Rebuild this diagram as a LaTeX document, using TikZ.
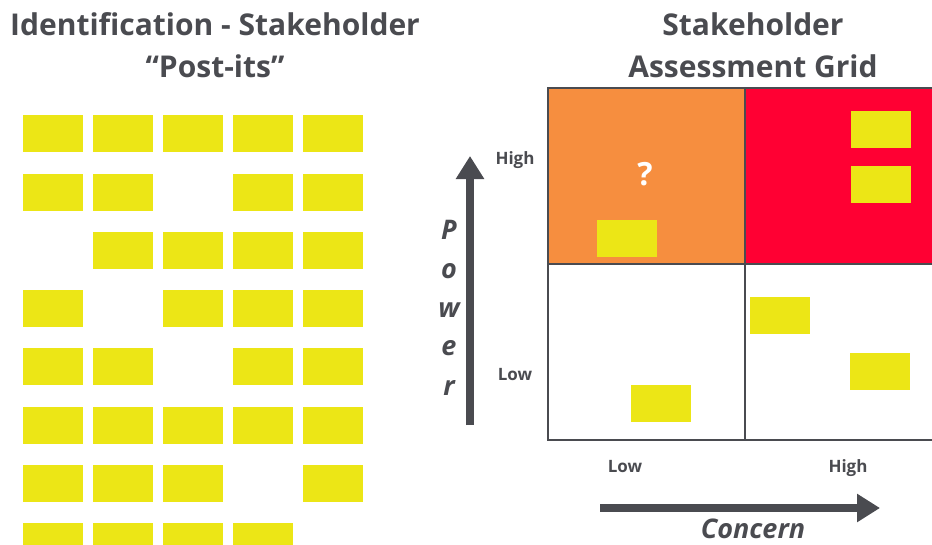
\documentclass[tikz,border=0pt]{standalone}
\usepackage{fontspec}
\setmainfont{Open Sans}
\usetikzlibrary{arrows.meta}
\definecolor{pyellow}{HTML}{ECE616}
\definecolor{porange}{HTML}{F68E3F}
\definecolor{pred}{HTML}{FF0033}
\definecolor{tgray}{HTML}{4A4B50}
\begin{document}
\begin{tikzpicture}[x=1pt,y=-1pt,
  postit/.style={fill=pyellow, minimum width=60pt, minimum height=37pt, inner sep=0pt, anchor=north west},
  title/.style={text=tgray, font=\fontsize{30}{36}\selectfont\bfseries, anchor=base, inner sep=0pt},
  axlabel/.style={text=tgray, font=\fontsize{17}{20}\selectfont\bfseries, anchor=base, inner sep=0pt},
  axname/.style={text=tgray, font=\fontsize{27}{32}\selectfont\bfseries\itshape, anchor=base, inner sep=0pt},
  gridline/.style={draw=tgray, line width=2.5pt},
  bigarrow/.style={draw=tgray, line width=8pt, -{Triangle[width=27pt,length=23pt]}}]
\useasboundingbox (0,0) rectangle (932,544);
\clip (0,0) rectangle (932,544);
% titles
\node[title] (t1) at (215,35) {Identification - Stakeholder};
\node[title] (t2) at (215,77) {“Post-its”};
\node[title] (t3) at (753,35) {Stakeholder};
\node[title] (t4) at (753,77) {Assessment Grid};
% left post-its
\foreach \r/\cols in {1/{1,2,3,4,5},2/{1,2,4,5},3/{2,3,4,5},4/{1,3,4,5},5/{1,2,4,5},6/{1,2,3,4,5},7/{1,2,3,5},8/{1,2,3,4}}{
  \foreach \c in \cols {
    \node[postit] (L\r\c) at ({23+70*(\c-1)},{115+58.3*(\r-1)}) {};
  }
}
% grid cells
\fill[porange] (548,88) rectangle (745,264);
\fill[pred] (745,88) rectangle (945,264);
\draw[gridline] (548,88) rectangle (945,440);
\draw[gridline] (745,88) -- (745,440);
\draw[gridline] (548,264) -- (945,264);
% grid post-its
\node[postit] (g1) at (597,220) {};
\node[postit] (g2) at (851,111) {};
\node[postit] (g3) at (851,166) {};
\node[postit] (g4) at (631,385) {};
\node[postit] (g5) at (750,297) {};
\node[postit] (g6) at (850,353) {};
\node[text=white, font=\fontsize{32}{38}\selectfont\bfseries, anchor=base, inner sep=0pt] (q) at (645,185) {?};
% vertical axis
\coordinate (vs) at (470,425);
\coordinate (ve) at (470,156);
\draw[bigarrow] (vs) -- (ve);
\node[axlabel] (hi1) at (515,164) {High};
\node[axlabel] (lo1) at (515,380) {Low};
\node[axname] (pw1) at (449,239) {P};
\node[axname] (pw2) at (449,278) {o};
\node[axname] (pw3) at (449,317) {w};
\node[axname] (pw4) at (449,355) {e};
\node[axname] (pw5) at (449,395) {r};
% horizontal axis
\coordinate (hs) at (600,508);
\coordinate (he) at (880,508);
\draw[bigarrow] (hs) -- (he);
\node[axlabel] (lo2) at (625,472) {Low};
\node[axlabel] (hi2) at (848,472) {High};
\node[axname] (cn) at (753,538) {Concern};
\end{tikzpicture}
\end{document}
